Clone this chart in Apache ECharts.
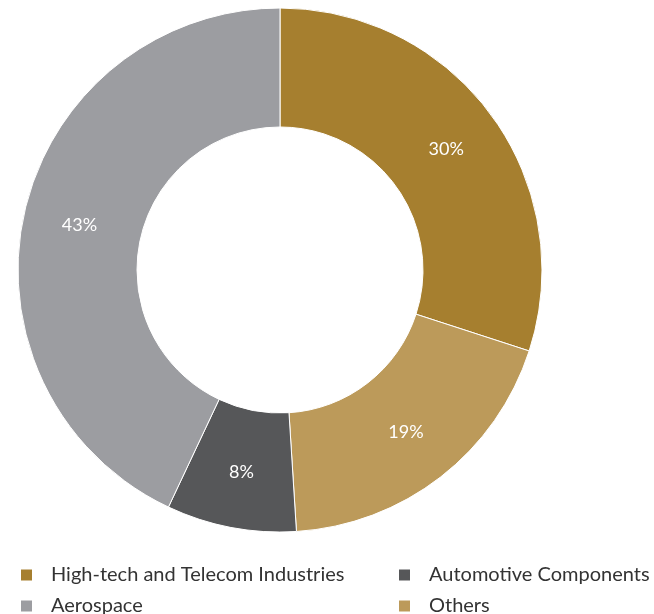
<!DOCTYPE html>
<html>
<head>
<meta charset="utf-8">
<script src="https://cdn.jsdelivr.net/npm/echarts@6/dist/echarts.min.js"></script>
<style>
  html, body { margin: 0; padding: 0; background: #ffffff; }
  #chart { width: 654px; height: 614px; }
</style>
</head>
<body>
<div id="chart"></div>
<script>
// Sector split, clockwise from 12 o'clock
const categories = ['High-tech and Telecom Industries', 'Others', 'Automotive Components', 'Aerospace'];
const shares = [30, 19, 8, 43];
const colors = ['#A67F2F', '#BC9A5A', '#565759', '#9C9DA1'];

// Legend layout: two rows, two columns
const legendRows = [
  ['High-tech and Telecom Industries', 'Automotive Components'],
  ['Aerospace', 'Others']
];

const FONT = 'Lato, "Open Sans", sans-serif';

const chart = echarts.init(document.getElementById('chart'), null, { renderer: 'canvas' });

const legendColumnsX = [19, 397];
const legendRowsY = [565, 596];

const legends = [];
legendRows.forEach((row, r) => {
  row.forEach((name, c) => {
    legends.push({
      orient: 'horizontal',
      left: legendColumnsX[c],
      top: legendRowsY[r],
      icon: 'rect',
      itemWidth: 13,
      itemHeight: 13,
      padding: 0,
      selectedMode: false,
      data: [name],
      textStyle: { fontFamily: FONT, fontSize: 20, color: '#333333', padding: [0, 0, 0, 13] }
    });
  });
});

chart.setOption({
  animation: false,
  color: colors,
  legend: legends,
  series: [{
    type: 'pie',
    center: [280, 270],
    radius: [143, 262],
    startAngle: 90,
    clockwise: true,
    avoidLabelOverlap: false,
    itemStyle: { borderColor: '#ffffff', borderWidth: 1 },
    label: {
      show: true,
      position: 'inside',
      formatter: '{c}%',
      color: '#ffffff',
      fontFamily: FONT,
      fontSize: 18
    },
    labelLine: { show: false },
    emphasis: { disabled: true },
    data: categories.map((name, i) => ({ name: name, value: shares[i] }))
  }]
});
</script>
</body>
</html>
